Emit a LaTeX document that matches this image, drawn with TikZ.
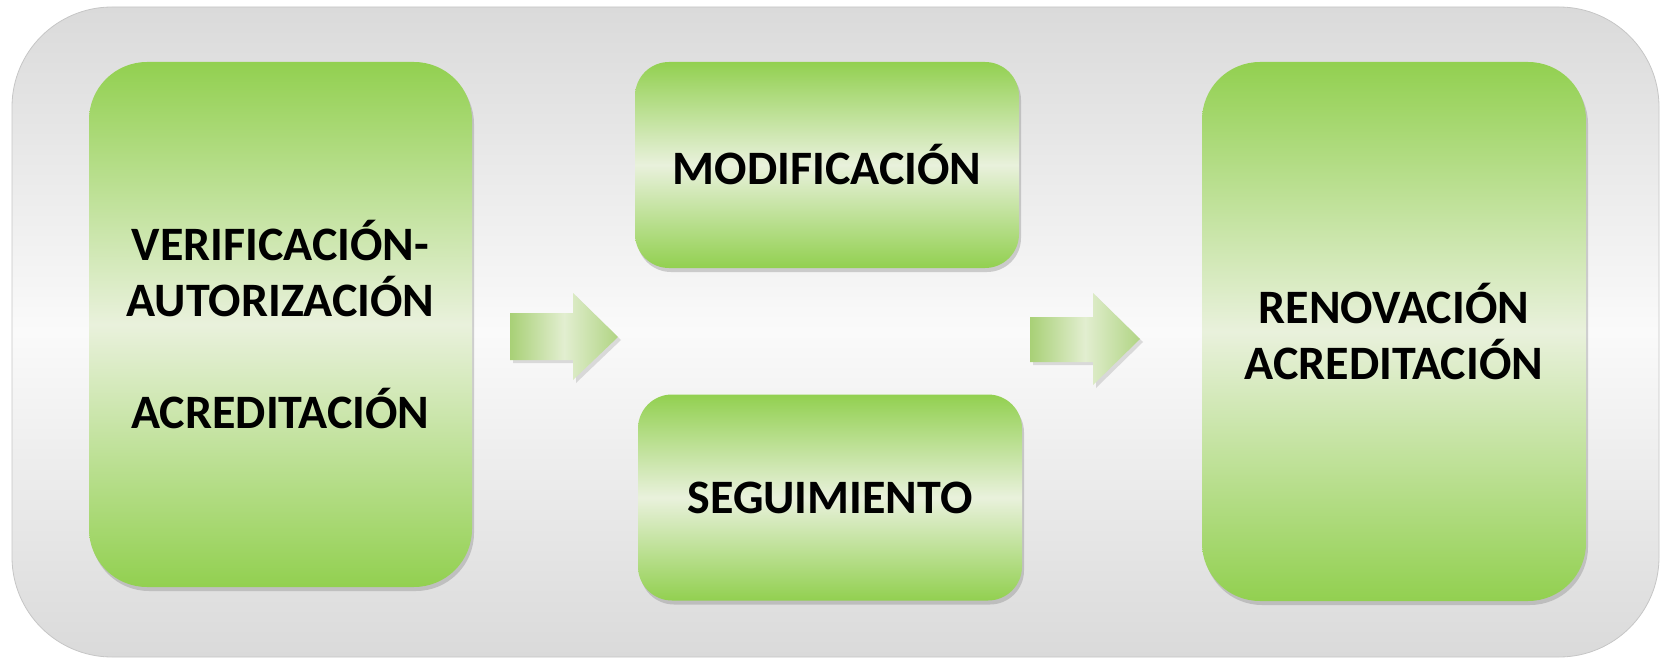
\documentclass[tikz,border=0pt]{standalone}
\usepackage{fontspec}
\setmainfont{Carlito}
\usepackage{xcolor}
\usetikzlibrary{shadows}

\definecolor{verde}{RGB}{146,208,80}
\definecolor{verdeclaro}{RGB}{233,241,220}
\definecolor{grisfondo}{RGB}{218,218,218}
\definecolor{grisclaro}{RGB}{250,250,250}
\definecolor{flechaverde}{RGB}{168,208,118}
\definecolor{flechaclara}{RGB}{226,238,208}

\begin{document}
\begin{tikzpicture}[x=0.5pt, y=-0.5pt]
        \tikzset{caja/.style={rectangle, rounded corners=29pt, inner sep=0pt, align=center,
            top color=verde, bottom color=verde, middle color=verdeclaro,
            drop shadow={shadow xshift=1pt, shadow yshift=-2pt, opacity=0.35},
            font=\bfseries\fontsize{24}{28}\selectfont}}
        \tikzset{cajita/.style={caja, rounded corners=17pt, minimum width=192pt, minimum height=103pt}}
        \tikzset{flecha/.style={left color=flechaverde, right color=flechaverde!85!flechaclara, middle color=flechaclara,
            drop shadow={shadow xshift=1.5pt, shadow yshift=-1.5pt, opacity=0.25}}}
        \useasboundingbox (0,0) rectangle (1660,658);

        % fondo
        \path [rounded corners=50pt, draw=gray!45, top color=grisfondo, bottom color=grisfondo, middle color=grisclaro]
            (12,7) rectangle (1659,657);

        \node [caja, minimum width=191.5pt, minimum height=262.5pt] (verif) at (280.5,324.5)
            {VERIFICACIÓN-\\AUTORIZACIÓN\\[28pt]ACREDITACIÓN};
        \node [cajita] (modif) at (827,165) {MODIFICACIÓN};
        \node [cajita] (segui) at (830,497.5) {SEGUIMIENTO};
        \node [caja, minimum width=192pt, minimum height=269.5pt] (renov) at (1394,331.5)
            {RENOVACIÓN\\ACREDITACIÓN};

        % flechas
        \path [flecha] (510,313) -- (573,313) -- (573,293) -- (618,337) -- (573,380) -- (573,360) -- (510,360) -- cycle;
        \path [flecha] (1030,317) -- (1093,317) -- (1093,293) -- (1140,339) -- (1093,385) -- (1093,362) -- (1030,362) -- cycle;
    \end{tikzpicture}
\end{document}
